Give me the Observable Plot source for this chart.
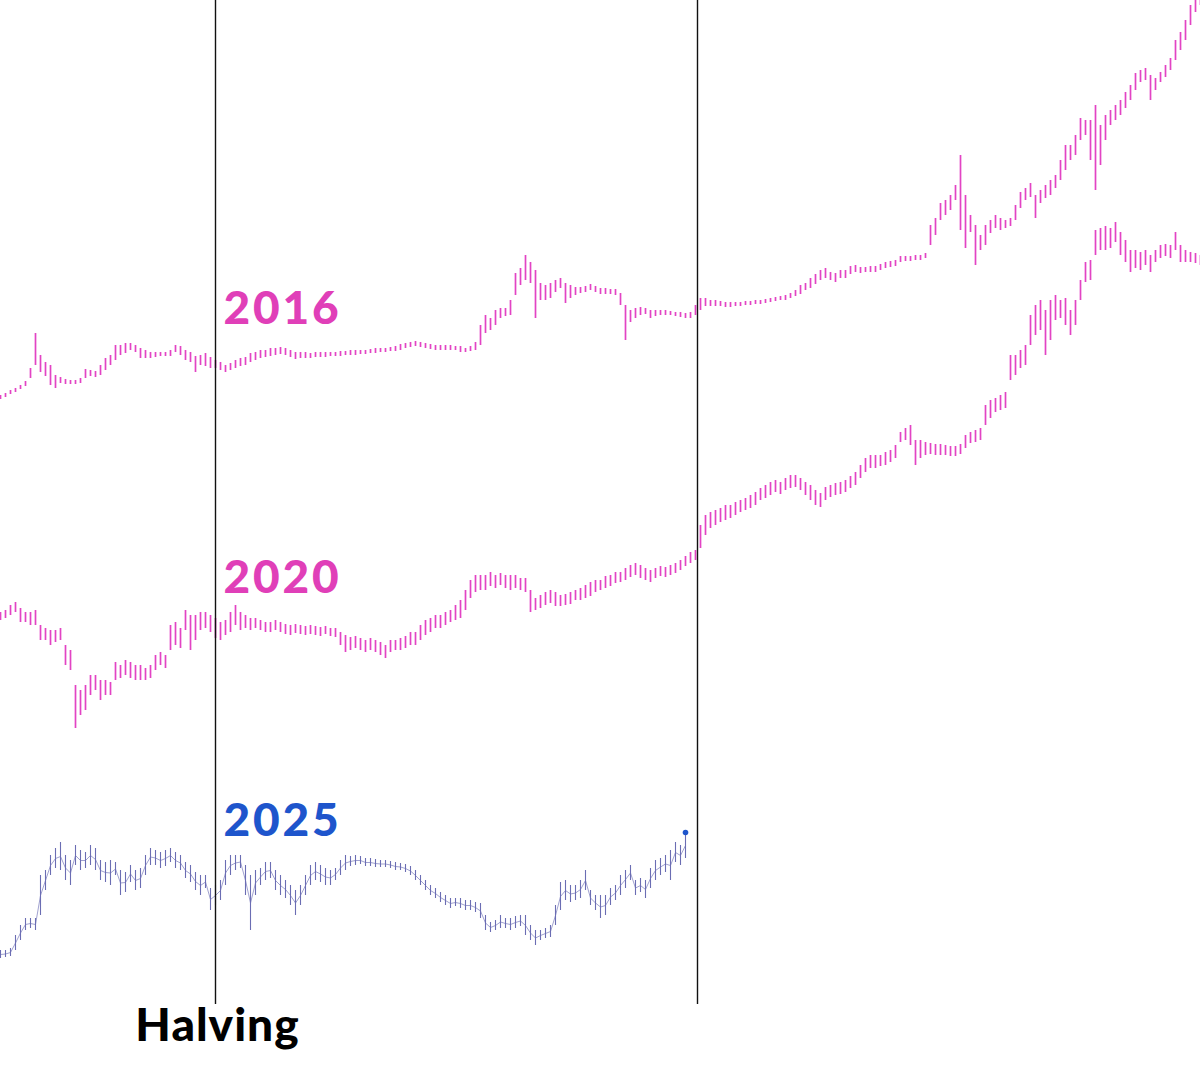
<!DOCTYPE html>
<html>
<head>
<meta charset="utf-8">
<script src="https://cdn.jsdelivr.net/npm/d3@7"></script>
<script src="https://cdn.jsdelivr.net/npm/@observablehq/plot@0.6"></script>
<style>
  html, body { margin: 0; padding: 0; background: #fff; }
  #chart svg { display: block; }
  .yearlbl text { letter-spacing: 2.8px; }
  .eventlbl text { letter-spacing: 1px; }
</style>
</head>
<body>
<div id="chart"></div>
<script>
// ---- DATA (x in cycle days, y in indexed price level; each bar = [low, high]) ----
const barStep = 5;           // days between bars
const halvingDay = 215;      // halving
const cycleMarkDay = 697;    // second reference marker (today's position in cycle)
const eventDays = [halvingDay, cycleMarkDay];
const eventLabels = ["Halving", ""];
const seriesNames = ["2016", "2020", "2025"];

const cycle2016 = [
[601,605],[603,607],[606,610],[608,612],[611,615],[614,619],[622,632],[635,667],[628,645],[624,638],
[615,635],[612,625],[617,623],[616,621],[616,620],[616,620],[617,622],[622,631],[624,630],[623,629],
[625,635],[630,642],[635,645],[640,655],[645,655],[647,657],[650,657],[648,655],[642,652],[642,650],
[642,648],[643,648],[644,648],[644,648],[644,650],[648,655],[645,654],[640,650],[638,648],[628,644],
[635,645],[634,647],[632,643],[632,640],[630,638],[628,635],[630,637],[632,640],[634,642],[635,643],
[638,647],[640,648],[642,650],[643,650],[644,652],[645,652],[646,653],[645,652],[643,650],[641,648],
[642,648],[642,648],[642,647],[643,648],[643,648],[643,648],[644,648],[644,648],[644,649],[645,649],
[645,650],[645,650],[646,650],[646,650],[647,651],[647,652],[648,652],[648,652],[649,653],[649,654],
[650,656],[652,657],[653,658],[654,659],[653,658],[652,657],[651,656],[650,655],[650,655],[650,655],
[650,655],[650,654],[648,654],[648,652],[649,654],[650,658],[655,675],[667,685],[670,682],[675,690],
[682,692],[684,692],[685,700],[705,727],[715,732],[720,745],[717,738],[682,730],[700,717],[700,715],
[702,717],[708,720],[712,722],[697,717],[702,715],[705,713],[707,713],[708,714],[710,716],[708,714],
[706,712],[706,712],[706,711],[705,711],[695,707],[660,695],[678,690],[682,692],[685,693],[686,692],
[682,690],[684,690],[685,690],[685,690],[685,689],[684,688],[683,688],[682,687],[682,688],[685,695],
[690,702],[694,702],[694,700],[694,700],[694,699],[693,698],[693,698],[694,698],[694,698],[695,699],
[695,699],[696,700],[696,700],[697,701],[698,702],[699,703],[700,704],[700,705],[702,707],[704,710],
[706,715],[710,717],[712,722],[716,726],[720,730],[722,732],[720,728],[718,727],[722,730],[722,730],
[726,734],[728,735],[727,733],[728,733],[728,734],[728,734],[730,736],[732,738],[733,739],[734,740],
[738,744],[739,744],[739,744],[740,745],[740,745],[742,747],[755,775],[765,782],[780,797],[785,800],
[790,805],[800,815],[770,845],[752,805],[768,785],[735,775],[750,765],[755,775],[767,780],[772,785],
[770,782],[772,780],[774,782],[780,795],[792,808],[800,812],[803,817],[782,805],[797,810],[802,815],
[805,820],[812,825],[820,840],[830,855],[840,855],[845,865],[860,882],[865,880],[840,880],[810,895],
[835,875],[860,885],[875,890],[880,895],[885,900],[892,908],[900,915],[910,927],[918,930],[920,932],
[900,925],[910,922],[918,928],[923,935],[930,942],[940,960],[950,968],[960,980],[975,995],[988,1000],
[995,1005]
];

const cycle2020 = [
[380,388],[382,390],[385,395],[388,398],[378,392],[378,388],[375,388],[375,390],[360,375],[360,372],
[355,370],[358,370],[360,372],[335,355],[330,350],[272,315],[285,310],[290,315],[305,325],[310,325],
[300,320],[305,320],[305,318],[320,338],[322,335],[325,340],[322,338],[320,335],[320,335],[320,332],
[322,335],[330,345],[335,348],[332,345],[350,375],[355,378],[352,372],[370,390],[350,385],[360,385],
[370,388],[372,388],[368,385],[362,382],[360,378],[365,380],[368,388],[375,395],[370,388],[372,385],
[370,382],[372,382],[370,380],[368,378],[368,378],[370,380],[368,378],[366,376],[365,375],[367,376],
[366,375],[365,374],[366,375],[365,374],[364,373],[366,374],[364,372],[363,372],[355,368],[348,365],
[350,363],[352,364],[350,362],[348,360],[350,362],[348,360],[345,358],[342,355],[348,360],[350,360],
[350,362],[352,364],[355,368],[355,368],[360,375],[365,380],[368,382],[372,385],[372,385],[375,388],
[378,390],[380,395],[382,400],[390,410],[402,420],[408,425],[410,425],[410,425],[414,428],[412,425],
[415,427],[412,425],[410,425],[412,425],[410,422],[408,422],[388,410],[390,402],[392,405],[395,408],
[397,410],[394,408],[394,405],[395,406],[396,408],[400,410],[400,412],[402,415],[404,418],[408,420],
[410,420],[412,424],[414,425],[417,428],[418,428],[420,432],[423,435],[425,437],[422,435],[420,432],
[418,430],[422,432],[424,434],[423,433],[425,435],[427,437],[430,440],[434,444],[437,448],[440,450],
[452,475],[465,485],[472,488],[475,490],[478,492],[480,495],[482,495],[485,498],[488,500],[490,502],
[492,505],[495,508],[500,512],[502,515],[505,518],[508,520],[506,518],[510,522],[512,525],[513,525],
[510,522],[505,518],[500,515],[495,510],[493,507],[500,513],[503,515],[505,517],[506,518],[508,520],
[512,524],[515,528],[522,535],[528,542],[532,545],[532,545],[534,545],[535,548],[538,550],[542,555],
[558,568],[560,572],[555,575],[535,560],[542,560],[545,558],[546,557],[545,556],[545,556],[545,555],
[544,554],[544,554],[546,556],[552,565],[557,568],[558,570],[560,572],[575,595],[582,600],[588,602],
[590,605],[592,608],[620,645],[625,645],[632,650],[635,655],[655,685],[665,695],[670,700],[645,690],
[660,700],[680,705],[682,700],[675,702],[665,690],[675,700],[700,720],[718,738],[720,740],[745,770],
[750,772],[750,774],[752,772],[758,778],[745,768],[738,760],[728,750],[732,750],[730,748],[735,750],
[728,745],[738,750],[742,755],[744,756],[742,755],[750,768],[738,755],[738,750],[738,748],[737,747],
[735,745]
];

const cycle2025 = [
[42,50],[43,50],[44,52],[50,65],[60,75],[70,82],[72,82],[70,82],[85,125],[110,130],
[125,145],[132,152],[130,158],[120,145],[115,140],[135,155],[130,150],[132,148],[135,155],[130,152],
[120,140],[118,138],[115,140],[125,138],[105,130],[108,128],[118,135],[110,130],[112,132],[125,145],
[135,152],[135,150],[132,148],[134,150],[138,152],[132,148],[130,145],[122,138],[118,135],[110,128],
[105,125],[112,125],[90,112],[95,115],[100,120],[115,140],[125,145],[130,145],[132,145],[105,135],
[70,125],[105,130],[115,132],[120,138],[122,138],[110,130],[105,125],[102,120],[95,115],[85,110],
[95,115],[105,125],[115,135],[120,138],[118,135],[115,132],[115,130],[120,132],[125,140],[130,145],
[134,144],[135,145],[136,144],[134,142],[134,142],[133,141],[133,140],[133,140],[132,139],[130,138],
[130,137],[128,136],[125,134],[120,130],[115,125],[110,120],[105,115],[102,112],[98,108],[95,105],
[92,102],[94,102],[92,102],[90,100],[90,100],[88,98],[82,97],[70,85],[68,78],[70,80],
[72,85],[72,82],[70,82],[72,84],[74,85],[65,85],[60,75],[55,70],[60,70],[62,72],
[63,75],[75,95],[90,118],[100,120],[98,115],[100,115],[102,120],[110,130],[95,110],[90,105],
[82,105],[85,105],[95,112],[100,115],[105,125],[112,130],[120,135],[105,120],[108,122],[102,120],
[112,132],[120,140],[125,142],[128,145],[120,150],[138,158],[135,155],[142,168]
];

// ---- build tables ----
function toBars(arr, name) {
  return arr.map(([lo, hi], i) => ({ series: name, day: i * barStep, lo, hi }));
}
const bars2016 = toBars(cycle2016, seriesNames[0]);
const bars2020 = toBars(cycle2020, seriesNames[1]);
const bars2025 = toBars(cycle2025, seriesNames[2]);
const lastBar = bars2025[bars2025.length - 1];

const pink = "#e244c4";
const pinkText = "#e03fb8";
const blue = "#1e55cc";
const slate = "#6b6db3";

function atDay(bars, day) {
  return bars.reduce((a, b) => Math.abs(b.day - day) < Math.abs(a.day - day) ? b : a);
}
const labelRows = [
  { name: seriesNames[0], ref: atDay(bars2016, halvingDay), dy: -37, color: pinkText },
  { name: seriesNames[1], ref: atDay(bars2020, halvingDay), dy: -26, color: pinkText },
  { name: seriesNames[2], ref: atDay(bars2025, halvingDay), dy: -50, color: blue }
];
const events = eventDays.map((d, i) => ({ day: d, label: eventLabels[i] }));

const font = "Lato, 'Open Sans', sans-serif";

const labelMarks = labelRows.map(r => Plot.text([r], {
  x: () => halvingDay, y: d => d.ref.hi, text: "name", fill: r.color,
  dx: 8, dy: r.dy, textAnchor: "start", lineAnchor: "bottom",
  fontSize: 46, fontWeight: 900, className: "yearlbl"
}));

const chart = Plot.plot({
  width: 1200,
  height: 1078,
  margin: 0,
  style: { background: "#fff", fontFamily: font },
  x: { domain: [0, 1200], axis: null },
  y: { domain: [-78, 1000], axis: null },
  marks: [
    Plot.ruleX(bars2016, { x: "day", y1: "lo", y2: "hi", stroke: pink, strokeWidth: 1.7 }),
    Plot.ruleX(bars2020, { x: "day", y1: "lo", y2: "hi", stroke: pink, strokeWidth: 1.7 }),
    Plot.line(bars2025, { x: "day", y: d => (d.lo + d.hi) / 2, stroke: slate, strokeWidth: 0.8, strokeOpacity: 0.8 }),
    Plot.ruleX(bars2025, { x: "day", y1: "lo", y2: "hi", stroke: slate, strokeWidth: 1.1 }),
    Plot.dot([lastBar], { x: "day", y: "hi", r: 2.8, fill: blue, stroke: "none" }),
    Plot.ruleX(events, { x: "day", stroke: "#111", strokeWidth: 1.4, insetBottom: 74 }),
    ...labelMarks,
    Plot.text(events.filter(e => e.label), {
      x: "day", text: "label", frameAnchor: "bottom", lineAnchor: "bottom",
      dy: -38, dx: 2, fill: "#000", fontSize: 46, fontWeight: 900, className: "eventlbl"
    })
  ]
});

document.getElementById("chart").append(chart);
</script>
</body>
</html>
